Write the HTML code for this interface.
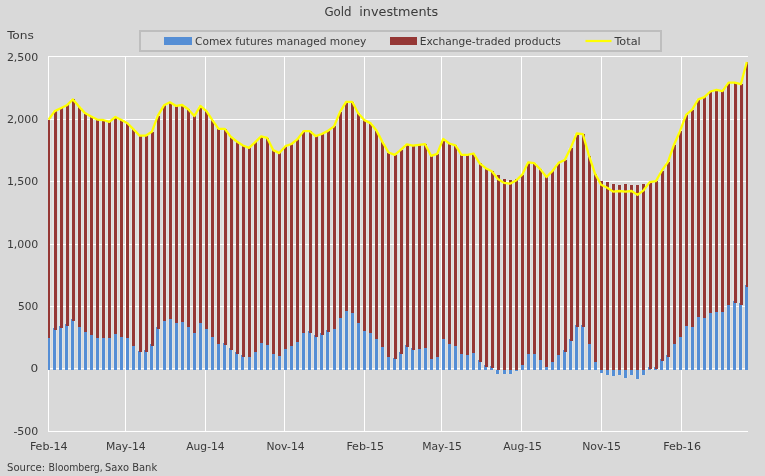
<!DOCTYPE html>
<html lang="en"><head><meta charset="utf-8"><title>Gold investments</title>
<style>html,body{margin:0;padding:0;background:#d9d9d9;overflow:hidden}svg{display:block}text{font-family:"DejaVu Sans Condensed","DejaVu Sans","Liberation Sans",sans-serif;fill:#3a3a3a;font-size:11px}</style></head><body>
<svg width="765" height="476" viewBox="0 0 765 476">
<rect x="0" y="0" width="765" height="476" fill="#d9d9d9"/>
<defs><clipPath id="c"><rect x="48" y="50" width="700" height="390"/></clipPath></defs>
<g clip-path="url(#c)" shape-rendering="crispEdges" fill="#e1e4e3"><rect x="46" y="119.6" width="5" height="250.4"/><rect x="52" y="111.1" width="5" height="258.9"/><rect x="58" y="108.3" width="5" height="261.7"/><rect x="64" y="105.3" width="5" height="264.7"/><rect x="70" y="99.4" width="5" height="270.6"/><rect x="77" y="106.6" width="5" height="263.4"/><rect x="83" y="113.1" width="5" height="256.9"/><rect x="89" y="116.4" width="5" height="253.6"/><rect x="95" y="119.6" width="5" height="250.4"/><rect x="101" y="120.0" width="5" height="250.0"/><rect x="107" y="121.9" width="5" height="248.1"/><rect x="113" y="117.0" width="5" height="253.0"/><rect x="119" y="120.0" width="5" height="250.0"/><rect x="125" y="123.2" width="5" height="246.8"/><rect x="131" y="129.4" width="5" height="240.6"/><rect x="137" y="135.7" width="5" height="234.3"/><rect x="143" y="135.7" width="5" height="234.3"/><rect x="149" y="131.8" width="5" height="238.2"/><rect x="155" y="115.7" width="5" height="254.3"/><rect x="162" y="105.3" width="5" height="264.7"/><rect x="168" y="102.3" width="5" height="267.7"/><rect x="174" y="105.9" width="5" height="264.1"/><rect x="180" y="105.0" width="5" height="265.0"/><rect x="186" y="109.2" width="5" height="260.8"/><rect x="192" y="116.1" width="5" height="253.9"/><rect x="198" y="105.9" width="5" height="264.1"/><rect x="204" y="111.1" width="5" height="258.9"/><rect x="210" y="120.3" width="5" height="249.7"/><rect x="216" y="128.8" width="5" height="241.2"/><rect x="222" y="128.8" width="5" height="241.2"/><rect x="228" y="136.6" width="5" height="233.4"/><rect x="234" y="141.5" width="5" height="228.5"/><rect x="240" y="145.5" width="5" height="224.5"/><rect x="247" y="147.9" width="5" height="222.1"/><rect x="253" y="142.3" width="5" height="227.7"/><rect x="259" y="136.4" width="5" height="233.6"/><rect x="265" y="137.9" width="5" height="232.1"/><rect x="271" y="150.1" width="5" height="219.9"/><rect x="277" y="153.1" width="5" height="216.9"/><rect x="283" y="146.2" width="5" height="223.8"/><rect x="289" y="144.0" width="5" height="226.0"/><rect x="295" y="139.2" width="5" height="230.8"/><rect x="301" y="131.1" width="5" height="238.9"/><rect x="307" y="131.1" width="5" height="238.9"/><rect x="313" y="136.1" width="5" height="233.9"/><rect x="319" y="134.0" width="5" height="236.0"/><rect x="325" y="130.9" width="5" height="239.1"/><rect x="332" y="126.4" width="5" height="243.6"/><rect x="338" y="112.0" width="5" height="258.0"/><rect x="344" y="101.8" width="5" height="268.2"/><rect x="350" y="101.8" width="5" height="268.2"/><rect x="356" y="113.3" width="5" height="256.7"/><rect x="362" y="120.1" width="5" height="249.9"/><rect x="368" y="123.1" width="5" height="246.9"/><rect x="374" y="130.6" width="5" height="239.4"/><rect x="380" y="142.1" width="5" height="227.9"/><rect x="386" y="152.5" width="5" height="217.5"/><rect x="392" y="154.9" width="5" height="215.1"/><rect x="398" y="149.9" width="5" height="220.1"/><rect x="404" y="144.4" width="5" height="225.6"/><rect x="410" y="145.7" width="5" height="224.3"/><rect x="417" y="144.8" width="5" height="225.2"/><rect x="423" y="144.1" width="5" height="225.9"/><rect x="429" y="155.8" width="5" height="214.2"/><rect x="435" y="153.8" width="5" height="216.2"/><rect x="441" y="138.9" width="5" height="231.1"/><rect x="447" y="143.5" width="5" height="226.5"/><rect x="453" y="145.4" width="5" height="224.6"/><rect x="459" y="154.8" width="5" height="215.2"/><rect x="465" y="154.8" width="5" height="215.2"/><rect x="471" y="153.5" width="5" height="216.5"/><rect x="477" y="163.3" width="5" height="206.7"/><rect x="483" y="168.2" width="5" height="201.8"/><rect x="489" y="171.2" width="5" height="198.8"/><rect x="495" y="175.1" width="5" height="198.5"/><rect x="502" y="179.0" width="5" height="194.6"/><rect x="508" y="179.5" width="5" height="194.1"/><rect x="514" y="179.2" width="5" height="191.5"/><rect x="520" y="174.7" width="5" height="195.3"/><rect x="526" y="162.3" width="5" height="207.7"/><rect x="532" y="163.2" width="5" height="206.8"/><rect x="538" y="169.4" width="5" height="200.6"/><rect x="544" y="177.0" width="5" height="193.0"/><rect x="550" y="171.0" width="5" height="199.0"/><rect x="556" y="162.9" width="5" height="207.1"/><rect x="562" y="160.0" width="5" height="210.0"/><rect x="568" y="147.9" width="5" height="222.1"/><rect x="574" y="133.5" width="5" height="236.5"/><rect x="580" y="134.2" width="5" height="235.8"/><rect x="587" y="155.7" width="5" height="214.3"/><rect x="593" y="173.6" width="5" height="196.4"/><rect x="599" y="180.5" width="5" height="192.2"/><rect x="605" y="182.4" width="5" height="192.2"/><rect x="611" y="184.4" width="5" height="191.2"/><rect x="617" y="185.1" width="5" height="189.5"/><rect x="623" y="184.4" width="5" height="193.1"/><rect x="629" y="185.1" width="5" height="189.5"/><rect x="635" y="185.1" width="5" height="193.5"/><rect x="641" y="184.4" width="5" height="190.2"/><rect x="647" y="182.1" width="5" height="187.9"/><rect x="653" y="181.2" width="5" height="188.8"/><rect x="659" y="170.7" width="5" height="199.3"/><rect x="665" y="162.2" width="5" height="207.8"/><rect x="672" y="144.7" width="5" height="225.3"/><rect x="678" y="131.2" width="5" height="238.8"/><rect x="684" y="114.8" width="5" height="255.2"/><rect x="690" y="109.5" width="5" height="260.5"/><rect x="696" y="99.4" width="5" height="270.6"/><rect x="702" y="97.1" width="5" height="272.9"/><rect x="708" y="91.5" width="5" height="278.5"/><rect x="714" y="89.9" width="5" height="280.1"/><rect x="720" y="91.2" width="5" height="278.8"/><rect x="726" y="82.7" width="5" height="287.3"/><rect x="732" y="82.7" width="5" height="287.3"/><rect x="738" y="84.2" width="5" height="285.8"/><rect x="744" y="62.0" width="5" height="308.0"/></g>
<g stroke="#ffffff" stroke-width="1" fill="none" shape-rendering="crispEdges">
<line x1="48" x2="748" y1="56.5" y2="56.5"/>
<line x1="48" x2="748" y1="119.5" y2="119.5"/>
<line x1="48" x2="748" y1="181.5" y2="181.5"/>
<line x1="48" x2="748" y1="244.5" y2="244.5"/>
<line x1="48" x2="748" y1="306.5" y2="306.5"/>
<line x1="48" x2="748" y1="368.5" y2="368.5"/>
<line x1="48" x2="748" y1="431.5" y2="431.5"/>
<line x1="48.5" x2="48.5" y1="56" y2="432"/>
<line x1="125.5" x2="125.5" y1="56" y2="432"/>
<line x1="205.5" x2="205.5" y1="56" y2="432"/>
<line x1="284.5" x2="284.5" y1="56" y2="432"/>
<line x1="364.5" x2="364.5" y1="56" y2="432"/>
<line x1="441.5" x2="441.5" y1="56" y2="432"/>
<line x1="521.5" x2="521.5" y1="56" y2="432"/>
<line x1="601.5" x2="601.5" y1="56" y2="432"/>
<line x1="681.5" x2="681.5" y1="56" y2="432"/>
</g>
<g clip-path="url(#c)" shape-rendering="crispEdges">
<g fill="#558ed5"><rect x="48" y="337.8" width="2" height="32.2"/><rect x="53" y="328.2" width="3" height="41.8"/><rect x="59" y="326.2" width="3" height="43.8"/><rect x="65" y="324.2" width="3" height="45.8"/><rect x="71" y="319.0" width="3" height="51.0"/><rect x="78" y="326.7" width="3" height="43.3"/><rect x="84" y="332.0" width="3" height="38.0"/><rect x="90" y="334.8" width="3" height="35.2"/><rect x="96" y="337.8" width="3" height="32.2"/><rect x="102" y="337.8" width="3" height="32.2"/><rect x="108" y="337.8" width="3" height="32.2"/><rect x="114" y="333.9" width="3" height="36.1"/><rect x="120" y="336.8" width="3" height="33.2"/><rect x="126" y="337.8" width="3" height="32.2"/><rect x="132" y="345.7" width="3" height="24.3"/><rect x="138" y="350.8" width="3" height="19.2"/><rect x="144" y="350.4" width="3" height="19.6"/><rect x="150" y="344.2" width="3" height="25.8"/><rect x="156" y="327.2" width="3" height="42.8"/><rect x="163" y="321.1" width="3" height="48.9"/><rect x="169" y="318.9" width="3" height="51.1"/><rect x="175" y="322.8" width="3" height="47.2"/><rect x="181" y="321.8" width="3" height="48.2"/><rect x="187" y="326.7" width="3" height="43.3"/><rect x="193" y="332.9" width="3" height="37.1"/><rect x="199" y="322.8" width="3" height="47.2"/><rect x="205" y="329.0" width="3" height="41.0"/><rect x="211" y="336.8" width="3" height="33.2"/><rect x="217" y="344.0" width="3" height="26.0"/><rect x="223" y="343.2" width="3" height="26.8"/><rect x="229" y="348.4" width="3" height="21.6"/><rect x="235" y="352.3" width="3" height="17.7"/><rect x="241" y="355.2" width="3" height="14.8"/><rect x="248" y="356.8" width="3" height="13.2"/><rect x="254" y="351.8" width="3" height="18.2"/><rect x="260" y="342.9" width="3" height="27.1"/><rect x="266" y="344.9" width="3" height="25.1"/><rect x="272" y="353.8" width="3" height="16.2"/><rect x="278" y="355.8" width="3" height="14.2"/><rect x="284" y="348.8" width="3" height="21.2"/><rect x="290" y="345.9" width="3" height="24.1"/><rect x="296" y="341.8" width="3" height="28.2"/><rect x="302" y="332.9" width="3" height="37.1"/><rect x="308" y="331.4" width="3" height="38.6"/><rect x="314" y="335.3" width="3" height="34.7"/><rect x="320" y="333.4" width="3" height="36.6"/><rect x="326" y="330.1" width="3" height="39.9"/><rect x="333" y="329.0" width="3" height="41.0"/><rect x="339" y="317.8" width="3" height="52.2"/><rect x="345" y="311.0" width="3" height="59.0"/><rect x="351" y="312.9" width="3" height="57.1"/><rect x="357" y="322.8" width="3" height="47.2"/><rect x="363" y="330.9" width="3" height="39.1"/><rect x="369" y="332.9" width="3" height="37.1"/><rect x="375" y="339.0" width="3" height="31.0"/><rect x="381" y="347.0" width="3" height="23.0"/><rect x="387" y="356.8" width="3" height="13.2"/><rect x="393" y="357.6" width="3" height="12.4"/><rect x="399" y="352.3" width="3" height="17.7"/><rect x="405" y="345.1" width="3" height="24.9"/><rect x="411" y="348.4" width="3" height="21.6"/><rect x="418" y="348.8" width="3" height="21.2"/><rect x="424" y="347.8" width="3" height="22.2"/><rect x="430" y="359.0" width="3" height="11.0"/><rect x="436" y="357.0" width="3" height="13.0"/><rect x="442" y="339.0" width="3" height="31.0"/><rect x="448" y="343.9" width="3" height="26.1"/><rect x="454" y="345.9" width="3" height="24.1"/><rect x="460" y="354.0" width="3" height="16.0"/><rect x="466" y="354.9" width="3" height="15.1"/><rect x="472" y="352.9" width="3" height="17.1"/><rect x="478" y="360.4" width="3" height="9.6"/><rect x="484" y="365.0" width="3" height="5.0"/><rect x="490" y="366.0" width="3" height="4.0"/><rect x="496" y="370.0" width="3" height="3.6"/><rect x="503" y="370.0" width="3" height="3.6"/><rect x="509" y="370.0" width="3" height="3.6"/><rect x="515" y="370.0" width="3" height="0.7"/><rect x="521" y="364.8" width="3" height="5.2"/><rect x="527" y="354.0" width="3" height="16.0"/><rect x="533" y="354.0" width="3" height="16.0"/><rect x="539" y="359.9" width="3" height="10.1"/><rect x="545" y="366.8" width="3" height="3.2"/><rect x="551" y="361.8" width="3" height="8.2"/><rect x="557" y="354.9" width="3" height="15.1"/><rect x="563" y="350.2" width="3" height="19.8"/><rect x="569" y="339.1" width="3" height="30.9"/><rect x="575" y="325.1" width="3" height="44.9"/><rect x="581" y="325.1" width="3" height="44.9"/><rect x="588" y="343.9" width="3" height="26.1"/><rect x="594" y="361.8" width="3" height="8.2"/><rect x="600" y="370.0" width="3" height="2.7"/><rect x="606" y="370.0" width="3" height="4.6"/><rect x="612" y="370.0" width="3" height="5.6"/><rect x="618" y="370.0" width="3" height="4.6"/><rect x="624" y="370.0" width="3" height="7.5"/><rect x="630" y="370.0" width="3" height="4.6"/><rect x="636" y="370.0" width="3" height="8.6"/><rect x="642" y="370.0" width="3" height="4.6"/><rect x="648" y="366.9" width="3" height="3.1"/><rect x="654" y="366.9" width="3" height="3.1"/><rect x="660" y="359.1" width="3" height="10.9"/><rect x="666" y="355.1" width="3" height="14.9"/><rect x="673" y="343.9" width="3" height="26.1"/><rect x="679" y="337.0" width="3" height="33.0"/><rect x="685" y="325.9" width="3" height="44.1"/><rect x="691" y="326.9" width="3" height="43.1"/><rect x="697" y="316.8" width="3" height="53.2"/><rect x="703" y="318.0" width="3" height="52.0"/><rect x="709" y="312.9" width="3" height="57.1"/><rect x="715" y="311.8" width="3" height="58.2"/><rect x="721" y="311.8" width="3" height="58.2"/><rect x="727" y="304.9" width="3" height="65.1"/><rect x="733" y="301.0" width="3" height="69.0"/><rect x="739" y="302.9" width="3" height="67.1"/><rect x="745" y="284.9" width="3" height="85.1"/></g>
<g fill="#953735"><rect x="48" y="119.6" width="2" height="218.2"/><rect x="54" y="111.1" width="3" height="218.7"/><rect x="60" y="108.3" width="3" height="219.5"/><rect x="66" y="105.3" width="3" height="220.5"/><rect x="72" y="99.4" width="3" height="221.2"/><rect x="78" y="106.6" width="3" height="220.1"/><rect x="84" y="113.1" width="3" height="218.9"/><rect x="90" y="116.4" width="3" height="218.4"/><rect x="96" y="119.6" width="3" height="218.2"/><rect x="102" y="120.0" width="3" height="217.8"/><rect x="108" y="121.9" width="3" height="215.9"/><rect x="114" y="117.0" width="3" height="216.9"/><rect x="120" y="120.0" width="3" height="216.8"/><rect x="126" y="123.2" width="3" height="214.6"/><rect x="132" y="129.4" width="3" height="216.3"/><rect x="139" y="135.7" width="3" height="216.7"/><rect x="145" y="135.7" width="3" height="216.3"/><rect x="151" y="131.8" width="3" height="214.0"/><rect x="157" y="115.7" width="3" height="213.1"/><rect x="163" y="105.3" width="3" height="215.8"/><rect x="169" y="102.3" width="3" height="216.6"/><rect x="175" y="105.9" width="3" height="216.9"/><rect x="181" y="105.0" width="3" height="216.8"/><rect x="187" y="109.2" width="3" height="217.5"/><rect x="193" y="116.1" width="3" height="216.8"/><rect x="199" y="105.9" width="3" height="216.9"/><rect x="205" y="111.1" width="3" height="217.9"/><rect x="211" y="120.3" width="3" height="216.5"/><rect x="217" y="128.8" width="3" height="215.2"/><rect x="224" y="128.8" width="3" height="216.0"/><rect x="230" y="136.6" width="3" height="213.4"/><rect x="236" y="141.5" width="3" height="212.4"/><rect x="242" y="145.5" width="3" height="211.3"/><rect x="248" y="147.9" width="3" height="208.9"/><rect x="254" y="142.3" width="3" height="209.5"/><rect x="260" y="136.4" width="3" height="206.5"/><rect x="266" y="137.9" width="3" height="207.0"/><rect x="272" y="150.1" width="3" height="203.7"/><rect x="278" y="153.1" width="3" height="202.7"/><rect x="284" y="146.2" width="3" height="202.6"/><rect x="290" y="144.0" width="3" height="201.9"/><rect x="296" y="139.2" width="3" height="202.6"/><rect x="302" y="131.1" width="3" height="201.8"/><rect x="309" y="131.1" width="3" height="201.9"/><rect x="315" y="136.1" width="3" height="200.8"/><rect x="321" y="134.0" width="3" height="201.0"/><rect x="327" y="130.9" width="3" height="200.8"/><rect x="333" y="126.4" width="3" height="202.6"/><rect x="339" y="112.0" width="3" height="205.8"/><rect x="345" y="101.8" width="3" height="209.2"/><rect x="351" y="101.8" width="3" height="211.1"/><rect x="357" y="113.3" width="3" height="209.5"/><rect x="363" y="120.1" width="3" height="210.8"/><rect x="369" y="123.1" width="3" height="209.8"/><rect x="375" y="130.6" width="3" height="208.4"/><rect x="381" y="142.1" width="3" height="204.9"/><rect x="387" y="152.5" width="3" height="204.3"/><rect x="394" y="154.9" width="3" height="204.3"/><rect x="400" y="149.9" width="3" height="204.0"/><rect x="406" y="144.4" width="3" height="202.3"/><rect x="412" y="145.7" width="3" height="204.3"/><rect x="418" y="144.8" width="3" height="204.0"/><rect x="424" y="144.1" width="3" height="203.7"/><rect x="430" y="155.8" width="3" height="203.2"/><rect x="436" y="153.8" width="3" height="203.2"/><rect x="442" y="138.9" width="3" height="200.1"/><rect x="448" y="143.5" width="3" height="200.4"/><rect x="454" y="145.4" width="3" height="200.5"/><rect x="460" y="154.8" width="3" height="199.2"/><rect x="466" y="154.8" width="3" height="200.1"/><rect x="472" y="153.5" width="3" height="199.4"/><rect x="479" y="163.3" width="3" height="198.7"/><rect x="485" y="168.2" width="3" height="198.4"/><rect x="491" y="171.2" width="3" height="196.4"/><rect x="497" y="175.1" width="3" height="194.9"/><rect x="503" y="179.0" width="3" height="191.0"/><rect x="509" y="179.5" width="3" height="190.5"/><rect x="515" y="179.2" width="3" height="190.8"/><rect x="521" y="174.7" width="3" height="190.1"/><rect x="527" y="162.3" width="3" height="191.7"/><rect x="533" y="163.2" width="3" height="190.8"/><rect x="539" y="169.4" width="3" height="190.5"/><rect x="545" y="177.0" width="3" height="189.8"/><rect x="551" y="171.0" width="3" height="190.8"/><rect x="557" y="162.9" width="3" height="192.0"/><rect x="564" y="160.0" width="3" height="191.8"/><rect x="570" y="147.9" width="3" height="192.8"/><rect x="576" y="133.5" width="3" height="193.2"/><rect x="582" y="134.2" width="3" height="192.5"/><rect x="588" y="155.7" width="3" height="188.2"/><rect x="594" y="173.6" width="3" height="188.2"/><rect x="600" y="180.5" width="3" height="189.5"/><rect x="606" y="182.4" width="3" height="187.6"/><rect x="612" y="184.4" width="3" height="185.6"/><rect x="618" y="185.1" width="3" height="184.9"/><rect x="624" y="184.4" width="3" height="185.6"/><rect x="630" y="185.1" width="3" height="184.9"/><rect x="636" y="185.1" width="3" height="184.9"/><rect x="642" y="184.4" width="3" height="185.6"/><rect x="649" y="182.1" width="3" height="186.4"/><rect x="655" y="181.2" width="3" height="187.3"/><rect x="661" y="170.7" width="3" height="190.0"/><rect x="667" y="162.2" width="3" height="194.5"/><rect x="673" y="144.7" width="3" height="199.2"/><rect x="679" y="131.2" width="3" height="205.8"/><rect x="685" y="114.8" width="3" height="211.1"/><rect x="691" y="109.5" width="3" height="217.4"/><rect x="697" y="99.4" width="3" height="217.4"/><rect x="703" y="97.1" width="3" height="220.9"/><rect x="709" y="91.5" width="3" height="221.4"/><rect x="715" y="89.9" width="3" height="221.9"/><rect x="721" y="91.2" width="3" height="220.6"/><rect x="727" y="82.7" width="3" height="222.2"/><rect x="734" y="82.7" width="3" height="219.9"/><rect x="740" y="84.2" width="3" height="220.3"/><rect x="746" y="62.0" width="3" height="224.5"/></g>
</g>
<polyline clip-path="url(#c)" points="48.6,119.6 54.7,111.1 60.7,108.3 66.8,105.3 72.9,99.4 79.0,106.6 85.0,113.1 91.1,116.4 97.2,119.6 103.2,120.0 109.3,121.9 115.4,117.0 121.5,120.0 127.5,123.2 133.6,129.4 139.7,135.7 145.7,135.7 151.8,131.8 157.9,115.7 164.0,105.3 170.0,102.3 176.1,105.9 182.2,105.0 188.2,109.2 194.3,116.1 200.4,105.9 206.5,111.1 212.5,120.3 218.6,128.8 224.7,128.8 230.7,136.6 236.8,141.5 242.9,145.5 249.0,147.9 255.0,142.3 261.1,136.4 267.2,137.9 273.2,150.1 279.3,153.1 285.4,146.2 291.5,144.0 297.5,139.2 303.6,131.1 309.7,131.1 315.7,136.1 321.8,134.0 327.9,130.9 334.0,126.4 340.0,112.0 346.1,101.8 352.2,101.8 358.2,113.3 364.3,120.1 370.4,123.1 376.5,130.6 382.5,142.1 388.6,152.5 394.7,154.9 400.7,149.9 406.8,144.4 412.9,145.7 419.0,144.8 425.0,144.1 431.1,155.8 437.2,153.8 443.2,138.9 449.3,143.5 455.4,145.4 461.5,154.8 467.5,154.8 473.6,153.5 479.7,163.3 485.7,168.2 491.8,171.2 497.9,179.0 504.0,182.9 510.0,183.7 516.1,180.5 522.2,174.7 528.2,162.3 534.3,163.2 540.4,169.4 546.5,177.0 552.5,171.0 558.6,162.9 564.7,160.0 570.7,147.9 576.8,133.5 582.9,134.2 589.0,155.7 595.0,173.6 601.1,184.8 607.2,187.7 613.2,191.6 619.3,191.0 625.4,191.6 631.5,191.0 637.5,194.9 643.6,190.3 649.7,182.1 655.8,181.2 661.8,170.7 667.9,162.2 674.0,144.7 680.0,131.2 686.1,114.8 692.2,109.5 698.3,99.4 704.3,97.1 710.4,91.5 716.5,89.9 722.5,91.2 728.6,82.7 734.7,82.7 740.8,84.2 746.8,62.0" fill="none" stroke="#ffff00" stroke-width="2.3" stroke-linejoin="round" stroke-linecap="butt"/>
<rect x="140" y="31" width="521" height="20" fill="#dbdbdb" stroke="#bebebe" stroke-width="2" shape-rendering="crispEdges"/>
<rect x="164" y="37" width="28" height="8" fill="#558ed5"/>
<rect x="390" y="37" width="27" height="8" fill="#953735"/>
<line x1="585.5" x2="611.5" y1="41" y2="41" stroke="#ffff00" stroke-width="2.2"/>
<text x="195.0" y="45.0" textLength="171.3" lengthAdjust="spacingAndGlyphs">Comex futures managed money</text>
<text x="419.7" y="45.0" textLength="141.1" lengthAdjust="spacingAndGlyphs">Exchange-traded products</text>
<text x="614.6" y="45.0" textLength="26.1" lengthAdjust="spacingAndGlyphs">Total</text>
<text y="16.1" style="font-size:13px"><tspan x="324.4" textLength="27.2" lengthAdjust="spacingAndGlyphs">Gold</tspan> <tspan x="359.3" textLength="79" lengthAdjust="spacingAndGlyphs">investments</tspan></text>
<text x="7.2" y="39.0" textLength="26.8" lengthAdjust="spacingAndGlyphs">Tons</text>
<text x="6.9" y="60.7" textLength="31.4" lengthAdjust="spacingAndGlyphs">2,500</text>
<text x="6.9" y="122.9" textLength="31.4" lengthAdjust="spacingAndGlyphs">2,000</text>
<text x="6.9" y="184.9" textLength="31.4" lengthAdjust="spacingAndGlyphs">1,500</text>
<text x="6.9" y="247.9" textLength="31.4" lengthAdjust="spacingAndGlyphs">1,000</text>
<text x="18.1" y="309.9" textLength="20.2" lengthAdjust="spacingAndGlyphs">500</text>
<text x="30.6" y="371.9" textLength="7.7" lengthAdjust="spacingAndGlyphs">0</text>
<text x="13.4" y="434.9" textLength="24.9" lengthAdjust="spacingAndGlyphs">-500</text>
<text x="29.9" y="449.6" textLength="37.8" lengthAdjust="spacingAndGlyphs">Feb-14</text>
<text x="105.9" y="449.6" textLength="39.8" lengthAdjust="spacingAndGlyphs">May-14</text>
<text x="186.3" y="449.6" textLength="38.3" lengthAdjust="spacingAndGlyphs">Aug-14</text>
<text x="266.4" y="449.6" textLength="38.2" lengthAdjust="spacingAndGlyphs">Nov-14</text>
<text x="346.4" y="449.6" textLength="37.7" lengthAdjust="spacingAndGlyphs">Feb-15</text>
<text x="422.2" y="449.6" textLength="39.7" lengthAdjust="spacingAndGlyphs">May-15</text>
<text x="503.2" y="449.6" textLength="38.8" lengthAdjust="spacingAndGlyphs">Aug-15</text>
<text x="582.2" y="449.6" textLength="38.8" lengthAdjust="spacingAndGlyphs">Nov-15</text>
<text x="663.2" y="449.6" textLength="37.8" lengthAdjust="spacingAndGlyphs">Feb-16</text>
<text y="471" style="font-size:9.7px;font-family:&quot;DejaVu Sans&quot;,&quot;Liberation Sans&quot;,sans-serif"><tspan x="7" textLength="38.2" lengthAdjust="spacingAndGlyphs">Source:</tspan> <tspan x="48.6" textLength="54.2" lengthAdjust="spacingAndGlyphs">Bloomberg,</tspan> <tspan x="105" textLength="24" lengthAdjust="spacingAndGlyphs">Saxo</tspan> <tspan x="132.2" textLength="25" lengthAdjust="spacingAndGlyphs">Bank</tspan></text>
</svg></body></html>
